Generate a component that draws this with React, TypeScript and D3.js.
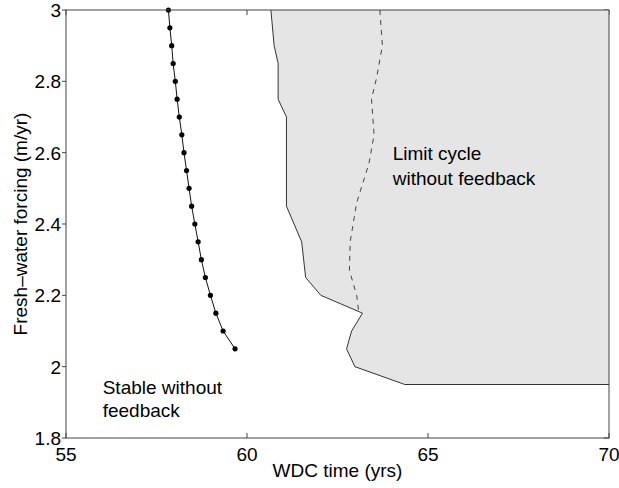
import { line, scaleLinear } from "d3";
import type { ReactElement } from "react";

// stable branch (with dots)
const stableY = [3.0, 2.95, 2.9, 2.85, 2.8, 2.75, 2.7, 2.65, 2.6, 2.55, 2.5, 2.45, 2.4, 2.35, 2.3, 2.25, 2.2, 2.15, 2.1, 2.05];
const stableX = [57.83, 57.87, 57.92, 57.96, 58.02, 58.07, 58.13, 58.2, 58.26, 58.33, 58.4, 58.47, 58.56, 58.65, 58.74, 58.85, 58.99, 59.14, 59.34, 59.67];

// boundary of the limit-cycle region
const limitX = [60.66, 60.75, 60.86, 60.86, 61.09, 61.09, 61.51, 61.62, 62.04, 63.19, 62.89, 62.75, 62.98, 64.36, 70];
const limitY = [3.0, 2.9, 2.85, 2.75, 2.7, 2.45, 2.35, 2.25, 2.2, 2.15, 2.1, 2.05, 2.0, 1.95, 1.95];

// dashed curve inside the region
const dashX = [63.67, 63.74, 63.58, 63.44, 63.51, 63.37, 63.03, 62.85, 62.83, 63.03, 63.09];
const dashY = [3.0, 2.9, 2.81, 2.75, 2.65, 2.57, 2.46, 2.35, 2.27, 2.2, 2.15];

const xTicks = [55, 60, 65, 70];
const yTicks = [1.8, 2, 2.2, 2.4, 2.6, 2.8, 3];

const font = "'Liberation Sans', Arial, Helvetica, sans-serif";

const width = 619;
const height = 488;
const margin = { top: 10, right: 10, bottom: 50, left: 66 } as const;

type Pt = [number, number];

const zip = (xs: number[], ys: number[]): Pt[] => xs.map((x, i) => [x, ys[i]]);

export default function App(): ReactElement {
  const x = scaleLinear().domain([55, 70]).range([margin.left, width - margin.right]);
  const y = scaleLinear().domain([1.8, 3]).range([height - margin.bottom, margin.top]);

  const gen = line<Pt>()
    .x((d) => x(d[0]))
    .y((d) => y(d[1]));

  const stable = zip(stableX, stableY);
  const boundary = zip(limitX, limitY);
  const region: Pt[] = [...boundary, [70, 3.0]];
  const dashed = zip(dashX, dashY);

  const x0 = x(55);
  const x1 = x(70);
  const y0 = y(1.8);
  const y1 = y(3);
  const axisColor = "#444";

  return (
    <svg
      width={width}
      height={height}
      style={{ position: "absolute", left: 0, top: 0, background: "#fff" }}
      fontFamily={font}
    >
      {/* ticks (under the fill) */}
      {xTicks.map((t) => (
        <g key={`x-${t}`}>
          <line x1={x(t)} x2={x(t)} y1={y0} y2={y0 - 5} stroke={axisColor} />
          <line x1={x(t)} x2={x(t)} y1={y1} y2={y1 + 5} stroke={axisColor} />
          <text x={x(t)} y={y0 + 23} textAnchor="middle" fontSize={19} fill="#000">
            {t}
          </text>
        </g>
      ))}
      {yTicks.map((t) => (
        <g key={`y-${t}`}>
          <line x1={x0 - 4} x2={x0} y1={y(t)} y2={y(t)} stroke={axisColor} />
          <line x1={x1} x2={x1 - 5} y1={y(t)} y2={y(t)} stroke={axisColor} />
          <text x={x0 - 5} y={y(t)} dy="0.36em" textAnchor="end" fontSize={19} fill="#000">
            {t === 3 || t === 2 ? String(t) : t.toFixed(1)}
          </text>
        </g>
      ))}

      <path d={gen(region) ?? ""} fill="#e5e5e5" stroke="none" />
      <path d={gen(boundary) ?? ""} fill="none" stroke="#333" strokeWidth={1} />
      <path d={gen(dashed) ?? ""} fill="none" stroke="#444" strokeWidth={1} strokeDasharray="5 5" />

      <path d={gen(stable) ?? ""} fill="none" stroke="#111" strokeWidth={1} />
      {stable.map((d, i) => (
        <circle key={`p-${i}`} cx={x(d[0])} cy={y(d[1])} r={2.6} fill="#000" />
      ))}

      {/* box */}
      <rect x={x0} y={y1} width={x1 - x0} height={y0 - y1} fill="none" stroke={axisColor} strokeWidth={1} />

      <text x={392.7} y={159.5} fontSize={19} fill="#000">
        Limit cycle
      </text>
      <text x={392.7} y={184.5} fontSize={19} fill="#000">
        without feedback
      </text>
      <text x={102.7} y={393.5} fontSize={19} fill="#000">
        Stable without
      </text>
      <text x={102.7} y={417} fontSize={19} fill="#000">
        feedback
      </text>

      <text x={(x0 + x1) / 2} y={477} textAnchor="middle" fontSize={19} fill="#000">
        WDC time (yrs)
      </text>
      <text
        transform={`translate(26.5, ${(y0 + y1) / 2}) rotate(-90)`}
        textAnchor="middle"
        fontSize={19}
        fill="#000"
      >
        Fresh–water forcing (m/yr)
      </text>
    </svg>
  );
}
